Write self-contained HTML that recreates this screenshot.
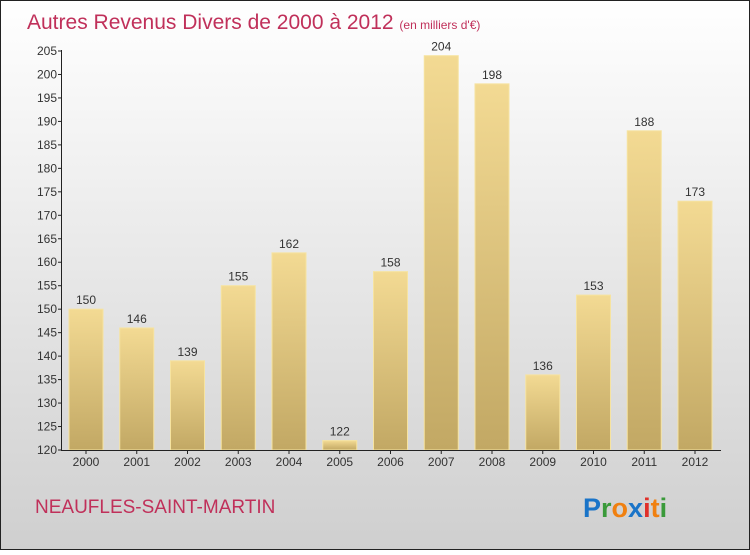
<!DOCTYPE html>
<html><head><meta charset="utf-8"><style>
body{margin:0;width:750px;height:550px;overflow:hidden;font-family:"Liberation Sans",sans-serif}
</style></head><body>
<svg id="c" width="750" height="550" xmlns="http://www.w3.org/2000/svg">
<defs>
<linearGradient id="bg" x1="0" y1="0" x2="0" y2="1"><stop offset="0" stop-color="#ffffff"/><stop offset="1" stop-color="#cfcfcf"/></linearGradient>
<linearGradient id="bar" x1="0" y1="0" x2="0" y2="1"><stop offset="0" stop-color="#f3da93"/><stop offset="1" stop-color="#c2a864"/></linearGradient>
</defs>
<rect x="0.5" y="0.5" width="749" height="549" fill="url(#bg)" stroke="#222"/>
<text x="27" y="29" font-size="21" fill="#c0305a">Autres Revenus Divers de 2000 à 2012 <tspan font-size="12">(en milliers d'€)</tspan></text>
<g id="plot"></g>
<text x="35" y="513" font-size="19" fill="#c0305a">NEAUFLES-SAINT-MARTIN</text>
<text x="583" y="517" font-size="27" font-weight="bold"><tspan fill="#1a74c8">P</tspan><tspan fill="#3a9a3a">r</tspan><tspan fill="#f08010">o</tspan><tspan fill="#1a74c8">x</tspan><tspan fill="#e0302a">i</tspan><tspan fill="#f08010">t</tspan><tspan fill="#3a9a3a">i</tspan></text>
</svg>
<script>
const years=["2000","2001","2002","2003","2004","2005","2006","2007","2008","2009","2010","2011","2012"];
const values=[150,146,139,155,162,122,158,204,198,136,153,188,173];
const ticks=[120,125,130,135,140,145,150,155,160,165,170,175,180,185,190,195,200,205];
const NS="http://www.w3.org/2000/svg";
const g=document.getElementById('plot');
const y=v=>450-(v-120)*(450-51)/85;
const x=i=>86+i*50.75;
function el(t,a,txt){const e=document.createElementNS(NS,t);for(const k in a)e.setAttribute(k,a[k]);if(txt!==undefined)e.textContent=txt;g.appendChild(e);return e;}
values.forEach((v,i)=>{
 const r=el('rect',{x:x(i)-17,y:y(v),width:34,height:450-y(v),fill:'url(#bar)',stroke:'#f6e3a0','stroke-width':1});
 
 
 const l=el('text',{x:x(i),y:y(v)-5,'font-size':12,'text-anchor':'middle',fill:'#333'},String(v));
 
 
 const xl=el('text',{x:x(i),y:466,'font-size':12,'text-anchor':'middle',fill:'#333'},years[i]);
 
 
 el('line',{x1:x(i),x2:x(i),y1:450,y2:454,stroke:'#222'});
});
ticks.forEach(t=>{
 el('line',{x1:58,x2:62,y1:y(t),y2:y(t),stroke:'#222'});
 const tl=el('text',{x:57,y:y(t)+4,'font-size':12,'text-anchor':'end',fill:'#333'},String(t));
 
 
});
const ya=el('line',{x1:61.5,x2:61.5,y1:50,y2:450,stroke:'#222'});


const xa=el('line',{x1:61,x2:721,y1:450.5,y2:450.5,stroke:'#222'});


</script>
</body></html>
